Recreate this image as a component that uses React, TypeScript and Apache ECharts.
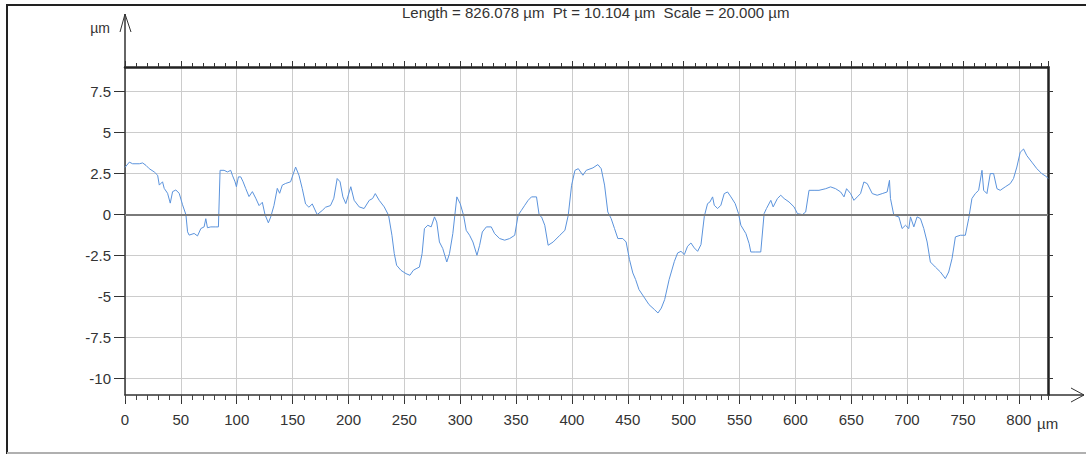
import React, { useEffect, useRef } from "react";
import * as echarts from "echarts";

const lengthUm = 826.078;
const titleText = "Length = 826.078 µm  Pt = 10.104 µm  Scale = 20.000 µm";
const yTicks = [-10, -7.5, -5, -2.5, 0, 2.5, 5, 7.5];
const yMin = -11;
const yMax = 9;

const xs = [
  0, 3.9, 6.8, 12.8, 15.8, 18.8, 21.7, 26.2, 29.2, 30.7, 33.6, 35.1, 38.1, 40.5, 42.6, 45.5, 48.5, 51.5, 54.5, 56,
  57.4, 61.9, 64.9, 67.9, 70.8, 72.3, 73.8, 76.8, 81.3, 83.6, 85.1, 88.7, 91.7, 94.6, 96.1, 98.5, 99.7, 101.5, 103.6, 105.7,
  108, 111, 114, 117, 120, 122.9, 125.3, 128.3, 130.4, 133.3, 136.3, 138.4, 140.8, 143.8, 148.2, 152.7, 155.7, 158.6, 161.6, 164.6,
  167.6, 172, 176.5, 179.5, 183.9, 186.9, 189.9, 192.5, 195, 197.6, 202.1, 205.1, 209.6, 214, 218.6, 221.6, 224, 227.5, 232, 235.9,
  238.9, 241, 243.1, 247, 251.5, 255, 258, 260.5, 263.5, 265.9, 268, 271, 274, 277, 279, 281.4, 284.4, 288, 290.4, 293.4,
  297, 300, 303, 305.4, 308.4, 311.4, 315, 317.4, 319.8, 323.4, 327.8, 330.8, 335.3, 339.8, 344.3, 348.8, 351.8, 354.8, 357.8, 360.8,
  363.8, 368.3, 370.7, 372.8, 375.7, 378.7, 383.2, 389.2, 393.7, 396.7, 399.7, 402.7, 405.7, 409.8, 412.8, 418.8, 423.2, 426.2, 429.2, 432.1,
  435.1, 438.1, 441.1, 445.5, 448.5, 451.5, 454.5, 457, 460, 465, 469, 474, 477, 480, 483, 487, 491.7, 494.6, 497.6, 500.6,
  503.5, 506.5, 509.5, 512.5, 515.5, 518.5, 521.4, 523.5, 525.9, 527.4, 530.4, 533.3, 536.3, 539.3, 542.3, 546.1, 549.1, 551.2, 555.7, 558.6,
  560.1, 564.6, 569, 572, 574.1, 578, 580.1, 583.9, 586.9, 589.9, 594.3, 598.8, 601.8, 606.3, 609.2, 612.2, 616.7, 621.1, 627.1, 631.5,
  636, 640.5, 643.5, 645.8, 649.4, 652.4, 655.4, 658.3, 661.3, 664.3, 668.8, 673.2, 677.7, 682.1, 684.2, 685.1, 688.1, 692.6, 695.5, 698.5,
  701.5, 703, 706, 708.9, 711.9, 714.9, 717.9, 720.8, 725.3, 729.8, 734.2, 737.2, 740.2, 743.2, 747.6, 752.1, 755.1, 758, 761, 764,
  767, 768.5, 771.4, 774.4, 777.4, 780.4, 783.3, 787.8, 792.3, 795.2, 798.2, 801.2, 804.2, 807.1, 811.6, 816.1, 820.5, 825, 826.078,
];

const ys = [
  2.88, 3.2, 3.1, 3.1, 3.15, 3.0, 2.8, 2.6, 2.4, 1.8, 2.0, 1.6, 1.3, 0.7, 1.4, 1.5, 1.3, 0.6, 0, -1.05,
  -1.25, -1.15, -1.3, -0.85, -0.75, -0.25, -0.8, -0.75, -0.75, -0.75, 2.7, 2.7, 2.6, 2.7, 2.4, 2.0, 1.7, 2.3, 2.3, 2.0,
  1.6, 1.1, 1.4, 1.0, 0.55, 0.75, 0, -0.5, -0.15, 0.55, 1.6, 1.3, 1.8, 1.9, 2.0, 2.9, 2.4, 1.6, 0.65, 0.45,
  0.65, 0, 0.25, 0.45, 0.55, 1.0, 2.2, 2.0, 1.08, 0.67, 1.7, 0.87, 0.47, 0.37, 0.87, 0.98, 1.28, 0.87, 0.47, -0.04,
  -1.26, -2.38, -3.09, -3.4, -3.6, -3.7, -3.4, -3.3, -3.2, -2.38, -0.85, -0.65, -0.75, -0.14, -0.45, -1.67, -2.07, -2.89, -2.38, -1.16,
  1.08, 0.67, -0.04, -0.96, -1.26, -1.67, -2.48, -1.87, -1.06, -0.75, -0.75, -1.16, -1.46, -1.56, -1.46, -1.26, -0.04, 0.26, 0.57, 0.87,
  1.08, 1.08, -0.04, -0.14, -0.65, -1.87, -1.67, -1.26, -0.96, -0.04, 1.79, 2.7, 2.8, 2.4, 2.7, 2.85, 3.05, 2.8, 1.8, 0.16,
  -0.24, -0.85, -1.46, -1.46, -1.67, -2.74, -3.56, -3.96, -4.57, -5.08, -5.49, -5.8, -6.0, -5.7, -5.18, -3.96, -2.85, -2.34, -2.24, -2.44,
  -1.93, -1.73, -2.03, -2.24, -1.83, -0.1, 0.67, 0.77, 1.08, 0.57, 0.37, 0.57, 1.28, 1.38, 1.08, 0.67, 0.06, -0.65, -1.16, -1.77,
  -2.28, -2.28, -2.28, 0.06, 0.37, 0.87, 0.47, 0.98, 1.18, 0.98, 0.77, 0.47, 0.06, 0, 0.16, 1.48, 1.48, 1.48, 1.58, 1.69,
  1.58, 1.38, 1.08, 1.58, 1.28, 0.87, 1.08, 1.28, 1.99, 1.89, 1.28, 1.18, 1.28, 1.38, 2.09, 0.98, -0.04, -0.14, -0.85, -0.65,
  -0.85, -0.14, -0.75, -0.14, -0.24, -0.85, -1.67, -2.89, -3.2, -3.5, -3.9, -3.5, -2.68, -1.36, -1.26, -1.26, -0.24, 0.98, 1.28, 1.48,
  2.7, 1.48, 1.28, 2.5, 2.5, 1.58, 1.48, 1.69, 1.89, 2.2, 2.9, 3.8, 4.0, 3.6, 3.2, 2.8, 2.5, 2.3, 2.2,
];

const FONT = "'Liberation Sans', Arial, sans-serif";
const TEXT = "#333333";
const GRIDC = "#cccccc";

export default function App() {
  const ref = useRef<HTMLDivElement>(null);
  useEffect(() => {
    document.body.style.margin = "0";
    if (!ref.current) return;
    const chart = echarts.init(ref.current, null, { renderer: "svg" });
    const G = { left: 125, top: 67, width: 923, height: 328 };
    const right = G.left + G.width;
    const bottom = G.top + G.height;
    const data = xs.map((x, i) => [x, ys[i]]);
    const noZero = { onZero: false };
    chart.setOption({
      animation: false,
      backgroundColor: "#ffffff",
      title: {
        text: titleText,
        left: 397,
        top: 0,
        textStyle: { fontSize: 15, fontWeight: "normal", color: TEXT, fontFamily: FONT },
      },
      grid: { left: G.left, top: G.top, width: G.width, height: G.height, containLabel: false },
      xAxis: [
        {
          type: "value", position: "bottom", min: 0, max: lengthUm, interval: 50,
          axisLine: { ...noZero, show: true, lineStyle: { color: "#333", width: 1.5 } },
          axisTick: { show: true, length: 9, lineStyle: { color: "#333", width: 1 } },
          axisLabel: { showMaxLabel: false, margin: 17, fontSize: 15, color: TEXT, fontFamily: FONT },
          splitLine: { show: true, lineStyle: { color: GRIDC, width: 1 } },
        },
        {
          type: "value", position: "bottom", min: 0, max: lengthUm, interval: 10,
          axisLine: { ...noZero, show: false }, axisLabel: { show: false }, splitLine: { show: false },
          axisTick: { show: true, length: 5, lineStyle: { color: "#444", width: 1 } },
        },
        {
          type: "value", position: "top", min: 0, max: lengthUm, interval: 10,
          axisLine: { ...noZero, show: true, lineStyle: { color: "#222", width: 2.5 } },
          axisLabel: { show: false }, splitLine: { show: false },
          axisTick: { show: true, length: 4, lineStyle: { color: "#333", width: 1 } },
        },
        {
          type: "value", position: "top", min: 0, max: lengthUm, interval: 50,
          axisLine: { ...noZero, show: false }, axisLabel: { show: false }, splitLine: { show: false },
          axisTick: { show: true, length: 6, lineStyle: { color: "#333", width: 1 } },
        },
      ],
      yAxis: [
        {
          type: "value", position: "left", min: yMin, max: yMax,
          axisLine: { ...noZero, show: true, lineStyle: { color: "#333", width: 1.5 } },
          axisTick: { show: true, length: 11, customValues: yTicks, lineStyle: { color: "#333", width: 1 } },
          axisLabel: { customValues: yTicks, margin: 14, fontSize: 15, color: TEXT, fontFamily: FONT },
          splitLine: { show: true, lineStyle: { color: GRIDC, width: 1 } },
        },
        {
          type: "value", position: "right", min: yMin, max: yMax,
          axisLine: { ...noZero, show: true, lineStyle: { color: "#222", width: 2.5 } },
          axisTick: { show: true, length: 5, customValues: yTicks, lineStyle: { color: "#333", width: 1 } },
          axisLabel: { show: false }, splitLine: { show: false },
        },
      ],
      series: [
        {
          type: "line",
          xAxisIndex: 0,
          yAxisIndex: 0,
          data,
          symbol: "none",
          showSymbol: false,
          lineStyle: { color: "#5b93dc", width: 1 },
          markLine: {
            silent: true,
            symbol: "none",
            label: { show: false },
            lineStyle: { color: "#7a7a7a", width: 2, type: "solid" },
            data: [{ yAxis: 0 }],
          },
          z: 3,
        },
      ],
      graphic: [
        { type: "line", shape: { x1: 6, y1: 5, x2: 1086, y2: 5 }, style: { stroke: "#222", lineWidth: 2 } },
        { type: "line", shape: { x1: 7, y1: 5, x2: 7, y2: 454 }, style: { stroke: "#222", lineWidth: 2 } },
        { type: "line", shape: { x1: 7, y1: 453, x2: 1086, y2: 453 }, style: { stroke: "#b0b0b0", lineWidth: 2 } },
        { type: "line", shape: { x1: G.left, y1: G.top, x2: G.left, y2: 14 }, style: { stroke: "#333", lineWidth: 1.5 } },
        { type: "polyline", shape: { points: [[120, 32], [G.left, 14], [131, 32]] }, style: { stroke: "#333", lineWidth: 1, fill: null } },
        { type: "line", shape: { x1: right, y1: bottom, x2: 1084, y2: bottom }, style: { stroke: "#333", lineWidth: 1.5 } },
        { type: "polyline", shape: { points: [[1071, 388], [1084, bottom], [1071, 402]] }, style: { stroke: "#333", lineWidth: 1, fill: null } },
        { type: "text", x: 110, y: 28, style: { text: "µm", font: `14px ${FONT}`, fill: TEXT, align: "right", verticalAlign: "middle" } },
        { type: "text", x: 1037, y: 423, style: { text: "µm", font: `15px ${FONT}`, fill: TEXT, align: "left", verticalAlign: "middle" } },
      ],
    });
    return () => chart.dispose();
  }, []);
  return <div ref={ref} style={{ width: 1086, height: 456 }} />;
}
